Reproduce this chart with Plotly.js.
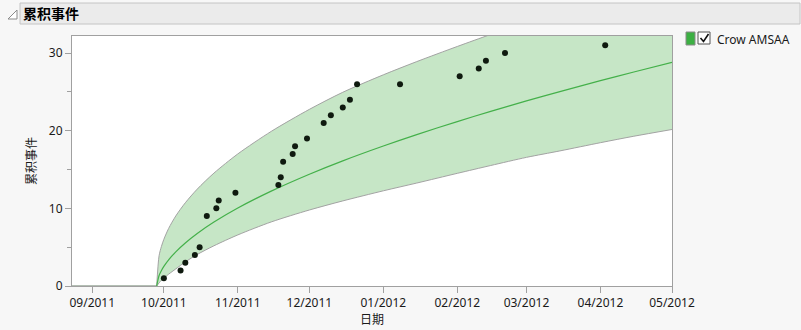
<!DOCTYPE html>
<html>
<head>
<meta charset="utf-8">
<script src="https://cdn.plot.ly/plotly-3.0.1.min.js"></script>
<style>
html,body{margin:0;padding:0;background:#f7f7f7;}
#chart{width:801px;height:330px;}
</style>
</head>
<body>
<div id="chart"></div>
<script>
// Observed cumulative events
const eventDates = ['2011-10-01','2011-10-08','2011-10-10','2011-10-14','2011-10-16','2011-10-19','2011-10-23','2011-10-24','2011-10-31','2011-11-18','2011-11-19','2011-11-20','2011-11-24','2011-11-25','2011-11-30','2011-12-07','2011-12-10','2011-12-15','2011-12-18','2011-12-21','2012-01-08','2012-02-02','2012-02-10','2012-02-13','2012-02-21','2012-04-03'];
const cumEvents = [1,2,3,4,5,9,10,11,12,13,14,16,17,18,19,21,22,23,24,26,26,27,28,29,30,31];

// Crow AMSAA fitted curve and confidence band
const curveDates = ['2011-09-28','2011-09-29','2011-09-30','2011-10-01','2011-10-03','2011-10-06','2011-10-10','2011-10-15','2011-10-22','2011-11-01','2011-11-15','2011-12-01','2011-12-15','2012-01-01','2012-01-15','2012-02-01','2012-02-15','2012-03-01','2012-03-15','2012-04-01','2012-04-15','2012-05-01'];
const fitValues   = [0, 1.35, 2.00, 2.52, 3.37, 4.40, 5.54, 6.76, 8.23, 10.04, 12.22, 14.40, 16.12, 18.03, 19.50, 21.18, 22.49, 23.84, 25.04, 26.45, 27.56, 28.80];
const upperValues = [0, 3.90, 5.11, 6.01, 7.41, 9.02, 10.72, 12.48, 14.54, 17.01, 19.91, 22.75, 24.95, 27.20, 28.90, 30.85, 32.40, 34.00, 35.45, 37.15, 38.50, 40.00];
const lowerValues = [0, 0.40, 0.74, 1.00, 1.52, 2.20, 3.10, 4.06, 5.18, 6.58, 8.25, 9.79, 10.96, 12.26, 13.26, 14.51, 15.52, 16.57, 17.40, 18.46, 19.29, 20.16];

// Flat segment before start
const flatDates = ['2011-08-23 12:00','2011-09-28'];
const flatValues = [0, 0];

// Axis ticks
const xTickVals = ['2011-09-01','2011-10-01','2011-11-01','2011-12-01','2012-01-01','2012-02-01','2012-03-01','2012-04-01','2012-05-01'];
const xTickLabels = ['09/2011','10/2011','11/2011','12/2011','01/2012','02/2012','03/2012','04/2012','05/2012'];
const yTickVals = [0,10,20,30];
const yMinorTickVals = [5,15,25];

const legendName = 'Crow AMSAA';
const panelTitle = '累积事件';
const xTitle = '日期';
const yTitle = '累积事件';

const font = "'Noto Sans', 'Noto Sans CJK SC', sans-serif";
const bandLine = '#a3a3a3';
const bandFill = 'rgba(198,230,198,1)';
const fitColor = '#44b04a';

const traces = [
  {x: flatDates, y: flatValues, mode:'lines', line:{color:'#9aa89a', width:1.5}, hoverinfo:'skip'},
  {x: curveDates, y: lowerValues, mode:'lines', line:{color:bandLine, width:1, shape:'spline', smoothing:0.8}, hoverinfo:'skip'},
  {x: curveDates, y: upperValues, mode:'lines', fill:'tonexty', fillcolor:bandFill, line:{color:bandLine, width:1, shape:'spline', smoothing:0.8}, hoverinfo:'skip'},
  {x: curveDates, y: fitValues, mode:'lines', name: legendName, line:{color:fitColor, width:1.2, shape:'spline', smoothing:0.8}},
  {x: eventDates, y: cumEvents, mode:'markers', marker:{color:'#0f1a0f', size:6}}
];

function px(x){ return (x-72)/600; }
function py(y){ return (286-y)/250; }

const layout = {
  width: 801, height: 330,
  margin: {l:72, r:129, t:36, b:44, pad:0},
  paper_bgcolor: '#f7f7f7',
  plot_bgcolor: '#ffffff',
  showlegend: false,
  font: {family: font, size: 12, color:'#1a1a1a'},
  xaxis: {
    type:'date',
    range:['2011-08-23 12:00','2012-05-01'],
    tickvals: xTickVals, ticktext: xTickLabels,
    ticks:'outside', ticklen:6, tickcolor:'#a0a0a0', tickwidth:1,
    showgrid:false, zeroline:false,
    showline:true, mirror:true, linecolor:'#a0a0a0', linewidth:1,
    tickfont:{family:font, size:12, color:'#1a1a1a'},
    title:{text:xTitle, font:{family:font, size:12, color:'#1a1a1a'}, standoff:4}
  },
  yaxis: {
    range:[0, 32.2],
    tickvals: yTickVals,
    ticks:'outside', ticklen:6, tickcolor:'#a0a0a0', tickwidth:1,
    minor:{tickvals:yMinorTickVals, ticks:'outside', ticklen:4, tickcolor:'#a0a0a0', showgrid:false},
    showgrid:false, zeroline:false,
    showline:true, mirror:true, linecolor:'#a0a0a0', linewidth:1,
    tickfont:{family:font, size:12, color:'#1a1a1a'},
    title:{text:yTitle, font:{family:font, size:12, color:'#1a1a1a'}, standoff:9}
  },
  shapes: [
    {type:'rect', xref:'paper', yref:'paper', x0:px(20), x1:px(800), y0:py(24), y1:py(3), fillcolor:'#ebebeb', line:{color:'#c4c4c4', width:1}, layer:'below'},
    {type:'path', xref:'paper', yref:'paper', path:`M ${px(8)},${py(19)} L ${px(17)},${py(19)} L ${px(17)},${py(10)} Z`, line:{color:'#8a8a8a', width:1}, fillcolor:'#ffffff'},
    {type:'rect', xref:'paper', yref:'paper', x0:px(686), x1:px(695), y0:py(45), y1:py(32), fillcolor:'#3cb043', line:{color:'#8a8a8a', width:1}},
    {type:'rect', xref:'paper', yref:'paper', x0:px(698), x1:px(710), y0:py(44), y1:py(32), fillcolor:'#ffffff', line:{color:'#555555', width:1}},
    {type:'path', xref:'paper', yref:'paper', path:`M ${px(700.5)},${py(38)} L ${px(703.5)},${py(41.5)} L ${px(708.5)},${py(34)}`, line:{color:'#111111', width:1.6}}
  ],
  annotations: [
    {xref:'paper', yref:'paper', x:px(21), y:py(13.5), xanchor:'left', yanchor:'middle', text:'<b>'+panelTitle+'</b>', showarrow:false, font:{family:"'Noto Sans CJK SC', sans-serif", size:14, color:'#000000'}},
    {xref:'paper', yref:'paper', x:px(715), y:py(39), xanchor:'left', yanchor:'middle', text:legendName, showarrow:false, font:{family:font, size:12, color:'#1a1a1a'}}
  ]
};

Plotly.newPlot('chart', traces, layout, {staticPlot:true, displayModeBar:false});
</script>
</body>
</html>
